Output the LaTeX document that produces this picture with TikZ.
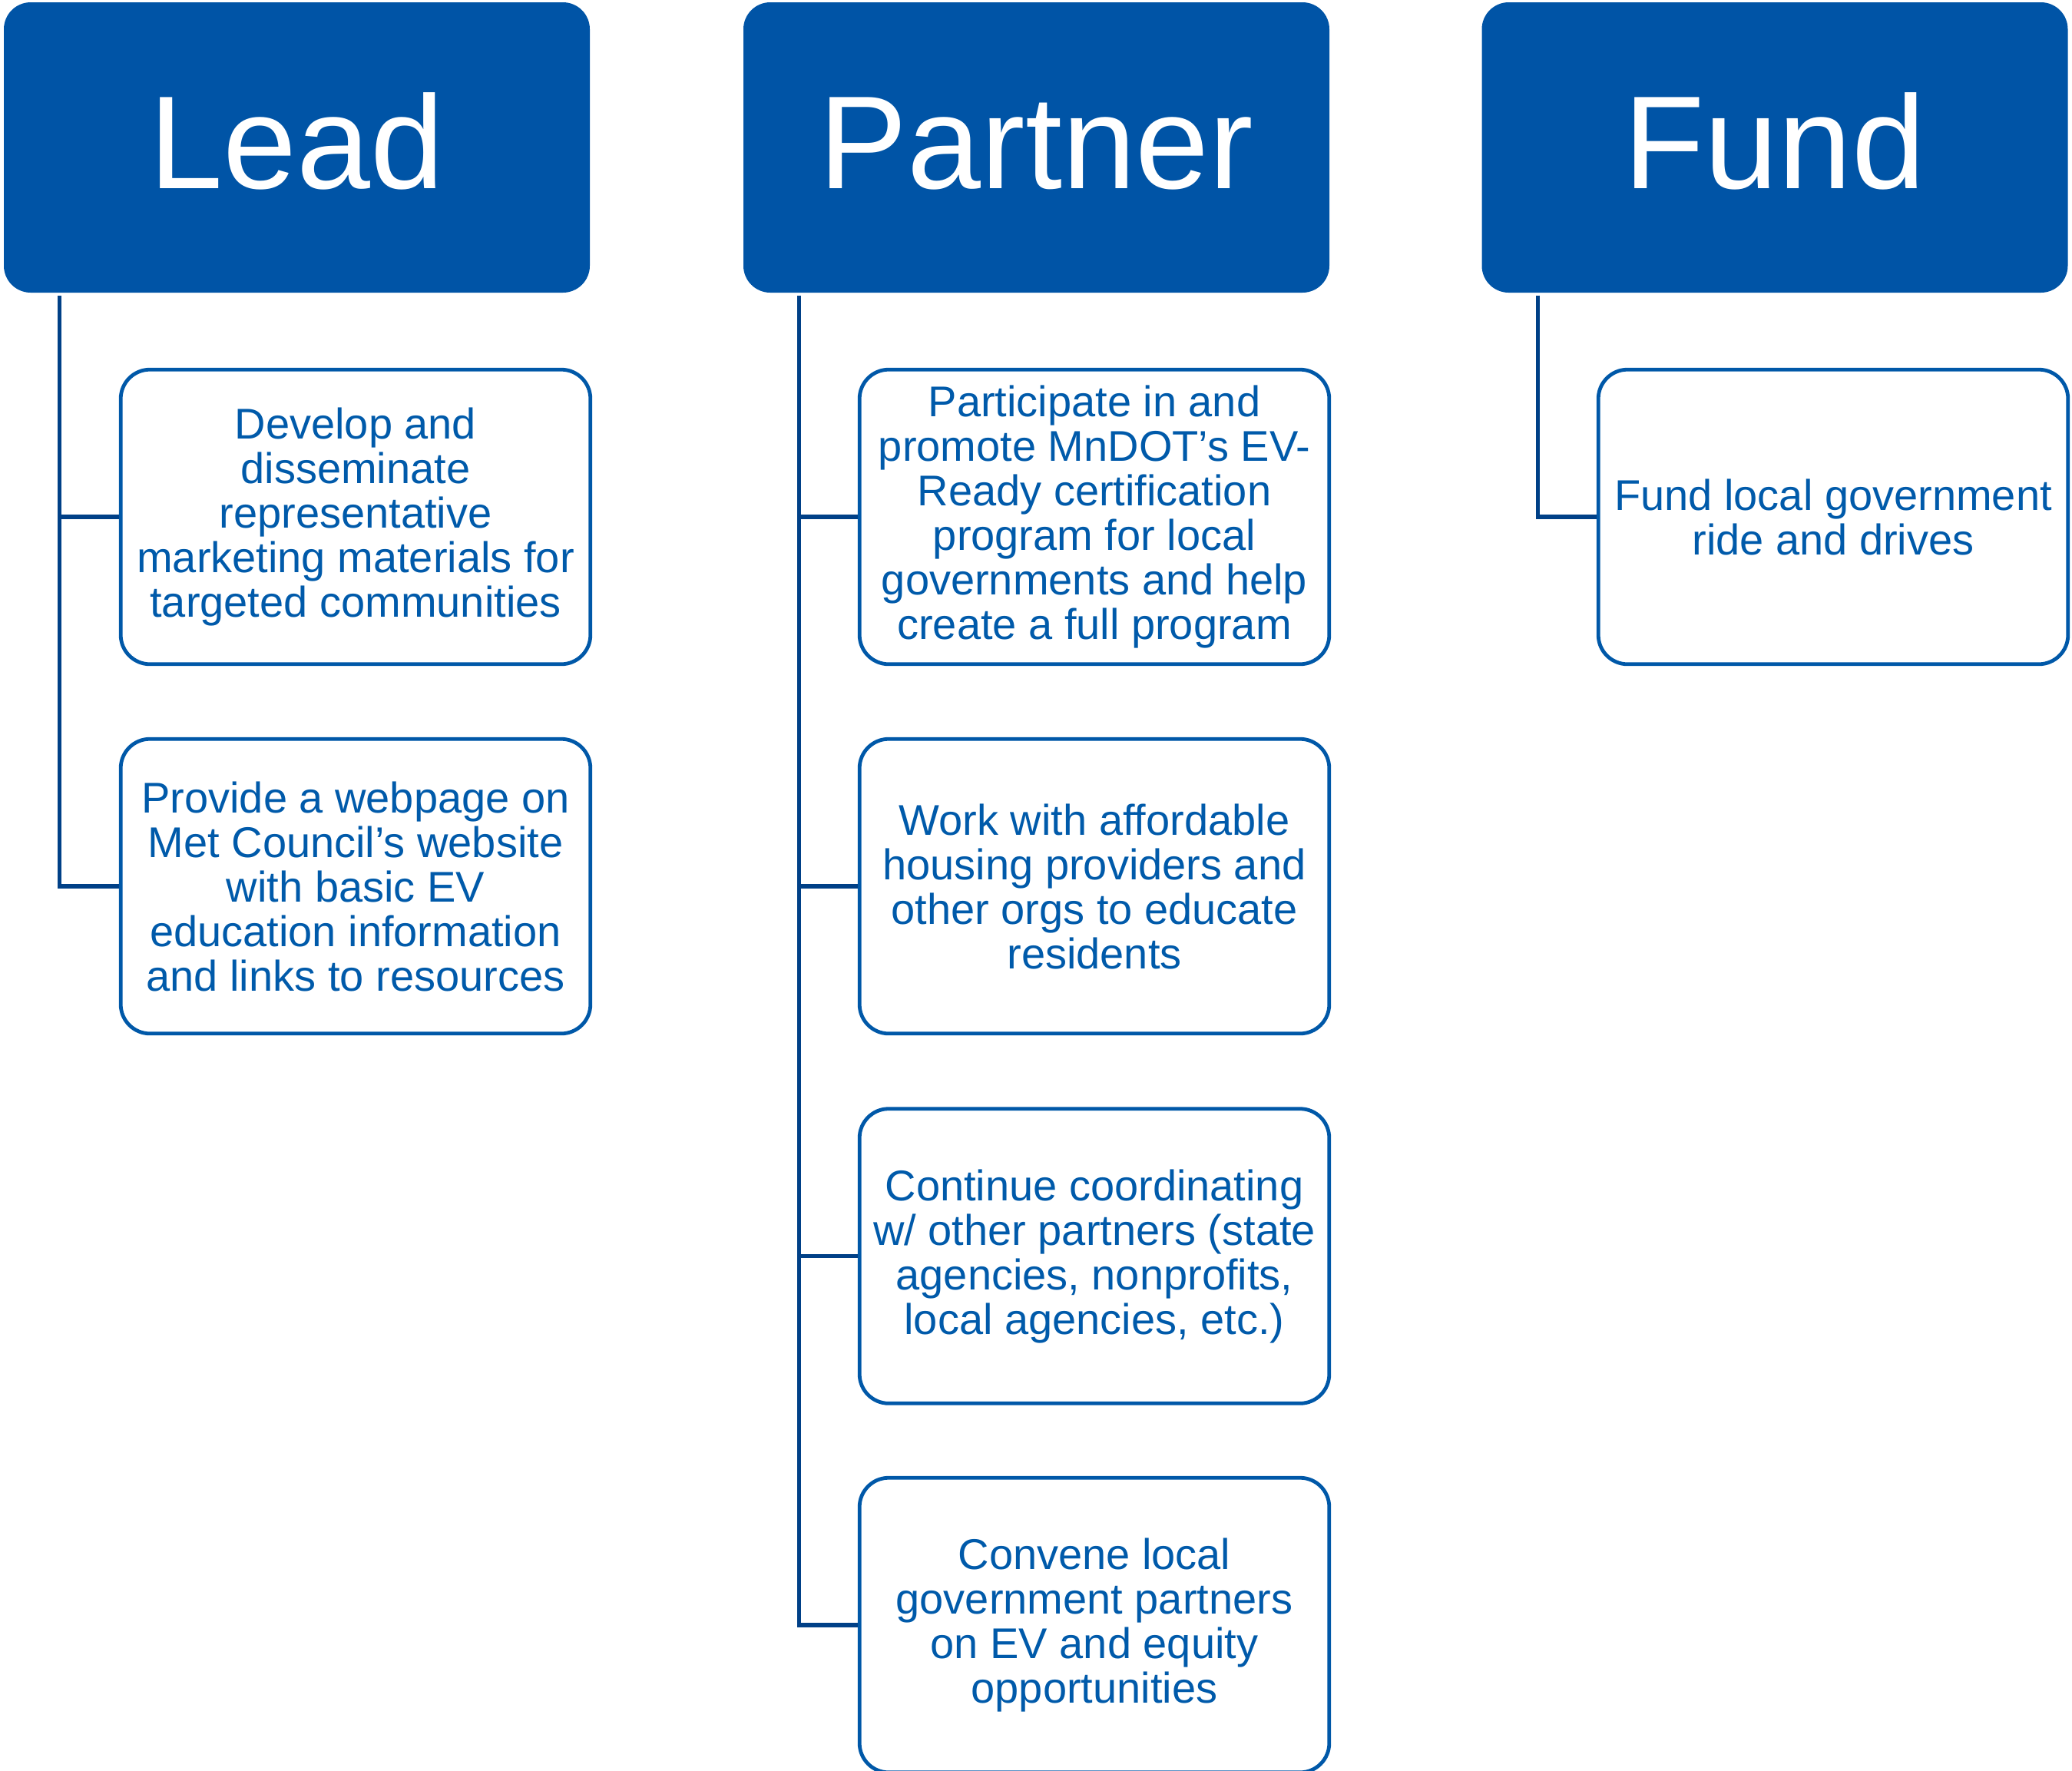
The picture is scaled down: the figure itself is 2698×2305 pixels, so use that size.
\documentclass[tikz,border=0pt]{standalone}
\usepackage{fontspec}
\setmainfont{Liberation Sans}
\definecolor{hdrblue}{RGB}{0,84,166}
\definecolor{boxblue}{RGB}{0,88,168}
\definecolor{txtblue}{RGB}{0,90,170}
\definecolor{lineblue}{RGB}{0,64,135}
\begin{document}
\begin{tikzpicture}[x=0.25pt,y=-0.25pt,
  header/.style={rectangle, rounded corners=8.75pt, fill=hdrblue, text=white,
    minimum width=190.75pt, minimum height=94.5pt, inner sep=0pt,
    font=\fontsize{43.1pt}{50pt}\selectfont, text height=32pt, text depth=5.5pt},
  item/.style={rectangle, rounded corners=9.5pt, draw=boxblue, line width=1.2pt,
    text=txtblue, minimum width=152.9pt, minimum height=95.9pt, inner sep=0pt,
    align=center, font=\fontsize{14pt}{14.5pt}\selectfont},
  conn/.style={draw=lineblue, line width=1.3pt}]
\useasboundingbox (0,0) rectangle (2698,2305);
\clip (0,0) rectangle (2698,2305);

% headers
\node[header] (L) at (386.5,192) {Lead};
\node[header] (P) at (1349.5,192) {Partner};
\node[header] (F) at (2311,192) {Fund};

% items
\node[item] (L1) at (463,673) {Develop and\\disseminate\\representative\\marketing materials for\\targeted communities};
\node[item] (L2) at (463,1154) {Provide a webpage on\\Met Council’s website\\with basic EV\\education information\\and links to resources};

\node[item] (P1) at (1425,673) {Participate in and\\promote MnDOT’s EV-\\Ready certification\\program for local\\governments and help\\create a full program};
\node[item] (P2) at (1425,1154) {Work with affordable\\housing providers and\\other orgs to educate\\residents};
\node[item] (P3) at (1425,1635.5) {Continue coordinating\\w/ other partners (state\\agencies, nonprofits,\\local agencies, etc.)};
\node[item] (P4) at (1425,2116) {Convene local\\government partners\\on EV and equity\\opportunities};

\node[item] (F1) at (2387,673) {Fund local government\\ride and drives};

% trunk coordinates
\coordinate (Lx) at ([xshift=18.4pt,yshift=-0.75pt]L.south west);
\coordinate (Px) at ([xshift=18.4pt,yshift=-0.75pt]P.south west);
\coordinate (Fx) at ([xshift=18.4pt,yshift=-0.75pt]F.south west);

% connectors
\draw[conn] (Lx) |- (L2.west);
\draw[conn] (L1.west -| Lx) -- (L1.west);

\draw[conn] (Px) |- (P4.west);
\draw[conn] (P1.west -| Px) -- (P1.west);
\draw[conn] (P2.west -| Px) -- (P2.west);
\draw[conn] (P3.west -| Px) -- (P3.west);

\draw[conn] (Fx) |- (F1.west);
\end{tikzpicture}
\end{document}
